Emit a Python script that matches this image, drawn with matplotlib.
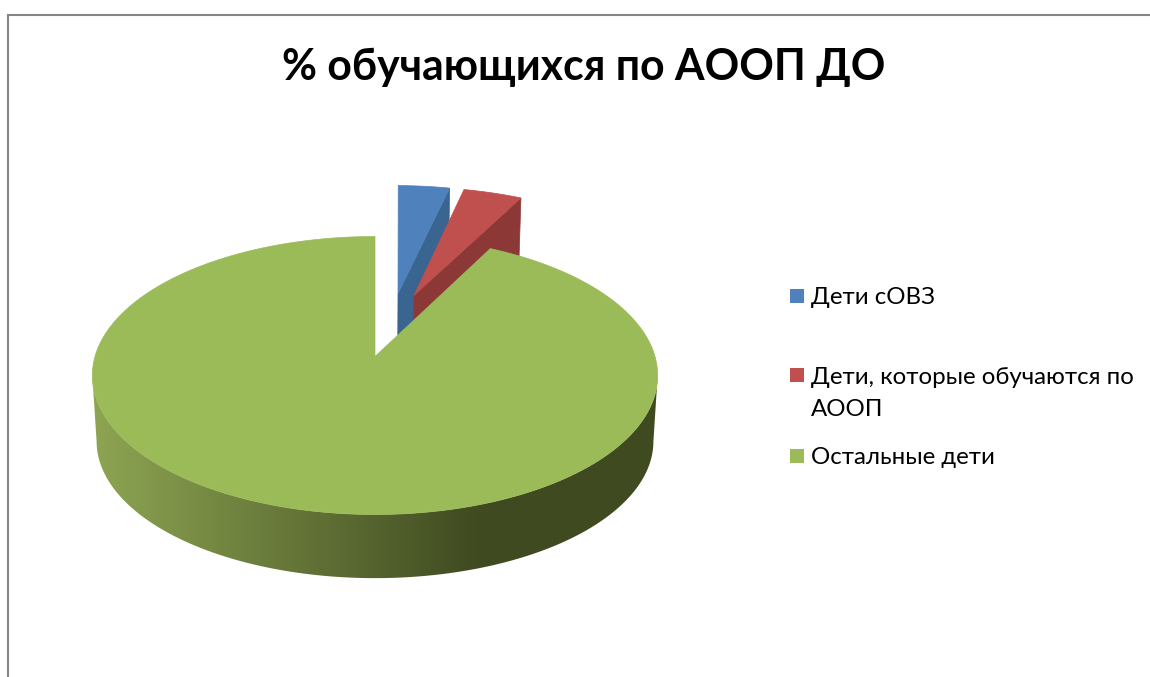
import matplotlib
matplotlib.use('Agg')
import matplotlib.pyplot as plt
from matplotlib.colors import LinearSegmentedColormap
from matplotlib.patches import Polygon
import numpy as np

# data
title = '% обучающихся по АООП ДО'
categories = ['Дети сОВЗ', 'Дети, которые обучаются по\nАООП', 'Остальные дети']
shares = [3.67, 3.97, 92.36]

top_colors = ['#4F81BD', '#C0504D', '#9BBB59']
inner_colors = ['#3A6591', '#8C3836', '#6F8A3C']

# look of the tilted pie
CX, CY = 375.0, 356.5
RX, RY, K = 280.0, 136.4, 0.1367
DEPTH, BOTTOM_SCALE = 66, 0.985
# how far each slice is pulled out: distance, direction in degrees
offsets = [(0.5, 10.1), (0.5, 17.3), (0.0, 0.0)]
radii = [1.02, 1.02, 1.0]
lean = [0.7, 0.0]  # perspective turns the first edge a bit
legend_rows = [296, 375, 456]

plt.rcParams['font.family'] = ['Lato', 'Noto Sans', 'DejaVu Sans']


def project(u, v, bottom=False):
    w = 1 + K * v
    s = BOTTOM_SCALE if bottom else 1.0
    x = CX + s * RX * u / w
    y = CY - s * RY * v / w
    if bottom:
        y = y + DEPTH
    return x, y


def rim(theta, radius, off, bottom=False):
    t = np.radians(theta)
    d = np.radians(off[1])
    u = off[0] * np.sin(d) + radius * np.sin(t)
    v = off[0] * np.cos(d) + radius * np.cos(t)
    return project(u, v, bottom)


fig = plt.figure(figsize=(11.5, 6.77), dpi=100)
ax = fig.add_axes([0, 0, 1, 1])

# chart frame, cut by the screenshot on the right and below
ax.plot([8, 8, 1150], [677, 15, 15], color='#868686', lw=1.5, solid_joinstyle='miter')

edges = np.concatenate([[0], np.cumsum(shares)]) * 3.6

# exploded slices first, the big one covers them
for i in [0, 1]:
    a, b = edges[i] + lean[i], edges[i + 1]
    off, r = offsets[i], radii[i]
    x0, y0 = rim(a, 0, off)
    x0b, y0b = rim(a, 0, off, True)
    x1, y1 = rim(b, r, off)
    x1b, y1b = rim(b, r, off, True)
    ax.add_patch(Polygon([(x0, y0), (x1, y1), (x1b, y1b), (x0b, y0b)],
                         fc=inner_colors[i], ec=inner_colors[i], lw=0.5, zorder=2 + i))
    th = np.linspace(a, b, 30)
    xs, ys = rim(th, r, off)
    pts = [(x0, y0)] + list(zip(xs, ys))
    ax.add_patch(Polygon(pts, fc=top_colors[i], ec=top_colors[i], lw=0.5, zorder=2 + i))

# wall of the big slice, shaded from left to right
# it runs between the widest points of the tilted circle
a, b = edges[2], edges[3]
wall = LinearSegmentedColormap.from_list('wall', ['#8DA452', '#3F4A20'])
widest = np.degrees(np.arccos(-K))
th = np.linspace(widest, 360 - widest, 200)
xt, yt = rim(th, 1.0, offsets[2])
xb, yb = rim(th[::-1], 1.0, offsets[2], True)
wall_shape = Polygon(list(zip(xt, yt)) + list(zip(xb, yb)), fc='none', ec='none', zorder=5)
ax.add_patch(wall_shape)
ramp = np.clip((np.arange(90, 670) - 95) / 385, 0, 1).reshape(1, -1)
img = ax.imshow(ramp, cmap=wall, vmin=0, vmax=1, extent=(90, 670, 600, 300), aspect='auto', zorder=5)
img.set_clip_path(wall_shape)

th = np.linspace(a, b, 400)
xs, ys = rim(th, radii[2], offsets[2])
pts = [rim(a, 0, offsets[2])] + list(zip(xs, ys))
ax.add_patch(Polygon(pts, fc=top_colors[2], ec=top_colors[2], lw=0.5, zorder=6))

ax.text(584, 67, title, ha='center', va='center', fontsize=30.8, fontweight='bold', color='black')

# legend
for name, col, y in zip(categories, top_colors, legend_rows):
    ax.add_patch(Polygon([(790, y - 7), (804, y - 7), (804, y + 7), (790, y + 7)], fc=col, ec='none'))
    ax.text(811, y - 8.5, name, ha='left', va='top', fontsize=17.3, color='black', linespacing=1.7)

ax.set_xlim(0, 1150)
ax.set_ylim(677, 0)
ax.axis('off')

fig.savefig('out.png', dpi=100)
